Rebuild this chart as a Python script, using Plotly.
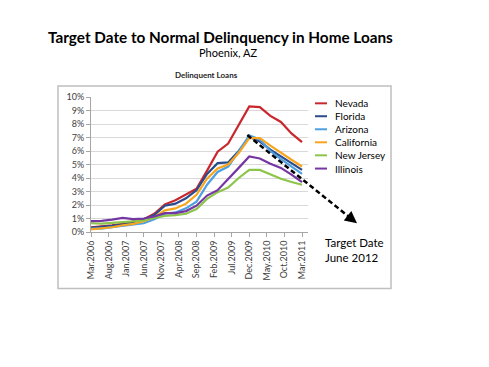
import plotly.graph_objects as go

# ---- data (quarterly, Mar.2006 .. Mar.2011), values in % ----
months = list(range(0, 61, 3))  # months since Mar.2006
tick_months = list(range(0, 61, 5))
tick_labels = ["Mar.2006", "Aug.2006", "Jan.2007", "Jun.2007", "Nov.2007", "Apr.2008",
               "Sep.2008", "Feb.2009", "Jul.2009", "Dec.2009", "May.2010", "Oct.2010", "Mar.2011"]

nevada     = [0.35, 0.40, 0.50, 0.60, 0.75, 0.95, 1.35, 2.05, 2.35, 2.75, 3.20, 4.55, 5.95, 6.55, 7.90, 9.30, 9.25, 8.60, 8.15, 7.30, 6.65]
florida    = [0.30, 0.35, 0.45, 0.55, 0.70, 0.95, 1.25, 1.95, 2.10, 2.50, 3.10, 4.30, 5.10, 5.15, 6.00, 7.05, 6.70, 6.10, 5.60, 5.10, 4.60]
arizona    = [0.25, 0.25, 0.35, 0.45, 0.50, 0.65, 0.95, 1.35, 1.45, 1.75, 2.25, 3.50, 4.45, 4.85, 5.95, 7.15, 6.85, 6.00, 5.40, 4.85, 4.30]
california = [0.20, 0.25, 0.35, 0.50, 0.60, 0.80, 1.10, 1.60, 1.75, 2.10, 2.75, 3.95, 4.70, 5.00, 5.85, 6.95, 6.95, 6.40, 5.85, 5.35, 4.85]
new_jersey = [0.65, 0.62, 0.68, 0.75, 0.78, 0.85, 1.05, 1.20, 1.25, 1.35, 1.70, 2.45, 2.95, 3.30, 4.00, 4.60, 4.60, 4.25, 3.95, 3.70, 3.50]
illinois   = [0.80, 0.82, 0.92, 1.05, 0.95, 1.00, 1.15, 1.40, 1.40, 1.55, 1.95, 2.70, 3.10, 3.90, 4.75, 5.60, 5.45, 5.05, 4.75, 4.25, 3.70]

series_names = ["Nevada", "Florida", "Arizona", "California", "New Jersey", "Illinois"]
series_values = [nevada, florida, arizona, california, new_jersey, illinois]
colors = ["#C8282D", "#2B4C8C", "#4FA0E0", "#F7A51E", "#8CC54A", "#7536A3"]

y_ticks = list(range(0, 11))
y_labels = [f"{v}%" for v in y_ticks]

# ---- geometry helpers (reference pixel -> paper) ----
W, H = 489, 367
OFF = 8  # page body margin offset
PL, PR, PT, PB = 91, 308, 97, 231.7


def px(x):
    return (x - PL) / (PR - PL)


def py(y):
    return (PB - y) / (PB - PT)


FONT = "Lato"
fig = go.Figure()
for name, vals, col in zip(series_names, series_values, colors):
    fig.add_trace(go.Scatter(x=months, y=vals, mode="lines", name=name,
                             line=dict(color=col, width=2.2), showlegend=False))

shapes = []
annotations = []

# outer chart frame
shapes.append(dict(type="rect", xref="paper", yref="paper",
                   x0=px(58), x1=px(391), y0=py(288), y1=py(86),
                   line=dict(color="#BFBFBF", width=1.5), layer="below"))

# custom legend
leg_y = [103.3, 116.2, 129.2, 142.2, 155.2, 168.4]
for name, col, yy in zip(series_names, colors, leg_y):
    shapes.append(dict(type="line", xref="paper", yref="paper",
                       x0=px(315), x1=px(327), y0=py(yy), y1=py(yy),
                       line=dict(color=col, width=2)))
    annotations.append(dict(text=name, xref="paper", yref="paper", x=px(333), y=py(yy),
                            xanchor="left", yanchor="middle", showarrow=False,
                            font=dict(family=FONT, size=10, color="#000000")))

# dashed trend arrow
x_s, y_s = 247.3, 135.0
x_e, y_e = 357.0, 223.0
shapes.append(dict(type="line", xref="paper", yref="paper",
                   x0=px(x_s), y0=py(y_s), x1=px(x_e - 4), y1=py(y_e - 3.2),
                   line=dict(color="#000000", width=2.5, dash="5px,3px")))
annotations.append(dict(x=px(x_e), y=py(y_e), xref="paper", yref="paper",
                        ax=-8, ay=-6.4, showarrow=True, arrowhead=2, arrowsize=1.1,
                        arrowwidth=2.2, arrowcolor="#000000", text=""))

# titles
annotations.append(dict(text="<b>Target Date to Normal Delinquency in Home Loans</b>",
                        xref="paper", yref="paper", x=px(220), y=py(37),
                        xanchor="center", yanchor="middle", showarrow=False,
                        font=dict(family=FONT, size=15.3, color="#000000")))
annotations.append(dict(text="Phoenix, AZ", xref="paper", yref="paper", x=px(228), y=py(53),
                        xanchor="center", yanchor="middle", showarrow=False,
                        font=dict(family=FONT, size=11, color="#000000")))
annotations.append(dict(text="<b>Delinquent Loans</b>", xref="paper", yref="paper", x=px(206), y=py(75),
                        xanchor="center", yanchor="middle", showarrow=False,
                        font=dict(family=FONT, size=8, color="#262626")))
annotations.append(dict(text="Target Date<br>June 2012", xref="paper", yref="paper", x=px(323), y=py(250),
                        xanchor="left", yanchor="middle", align="left", showarrow=False,
                        font=dict(family=FONT, size=11.5, color="#000000")))

fig.update_layout(
    width=W, height=H,
    margin=dict(l=PL - OFF, r=W - (PR - OFF), t=PT - OFF, b=H - (PB - OFF), pad=0),
    paper_bgcolor="white", plot_bgcolor="white",
    showlegend=False,
    shapes=shapes, annotations=annotations,
    font=dict(family=FONT, size=8, color="#595959"),
)
fig.update_xaxes(range=[0, 61.7], tickmode="array", tickvals=tick_months, ticktext=tick_labels,
                 tickangle=-90, ticks="outside", ticklen=4, tickcolor="#A6A6A6",
                 showline=True, linecolor="#A6A6A6", linewidth=1, showgrid=False, zeroline=False,
                 tickfont=dict(family=FONT, size=9, color="#404040"))
fig.update_yaxes(range=[0, 10], tickmode="array", tickvals=y_ticks, ticktext=y_labels,
                 ticks="outside", ticklen=4, tickcolor="#A6A6A6",
                 showline=True, linecolor="#A6A6A6", linewidth=1,
                 showgrid=True, gridcolor="#D9D9D9", gridwidth=1, zeroline=False,
                 tickfont=dict(family=FONT, size=9, color="#404040"))

fig.write_html("out.html")
